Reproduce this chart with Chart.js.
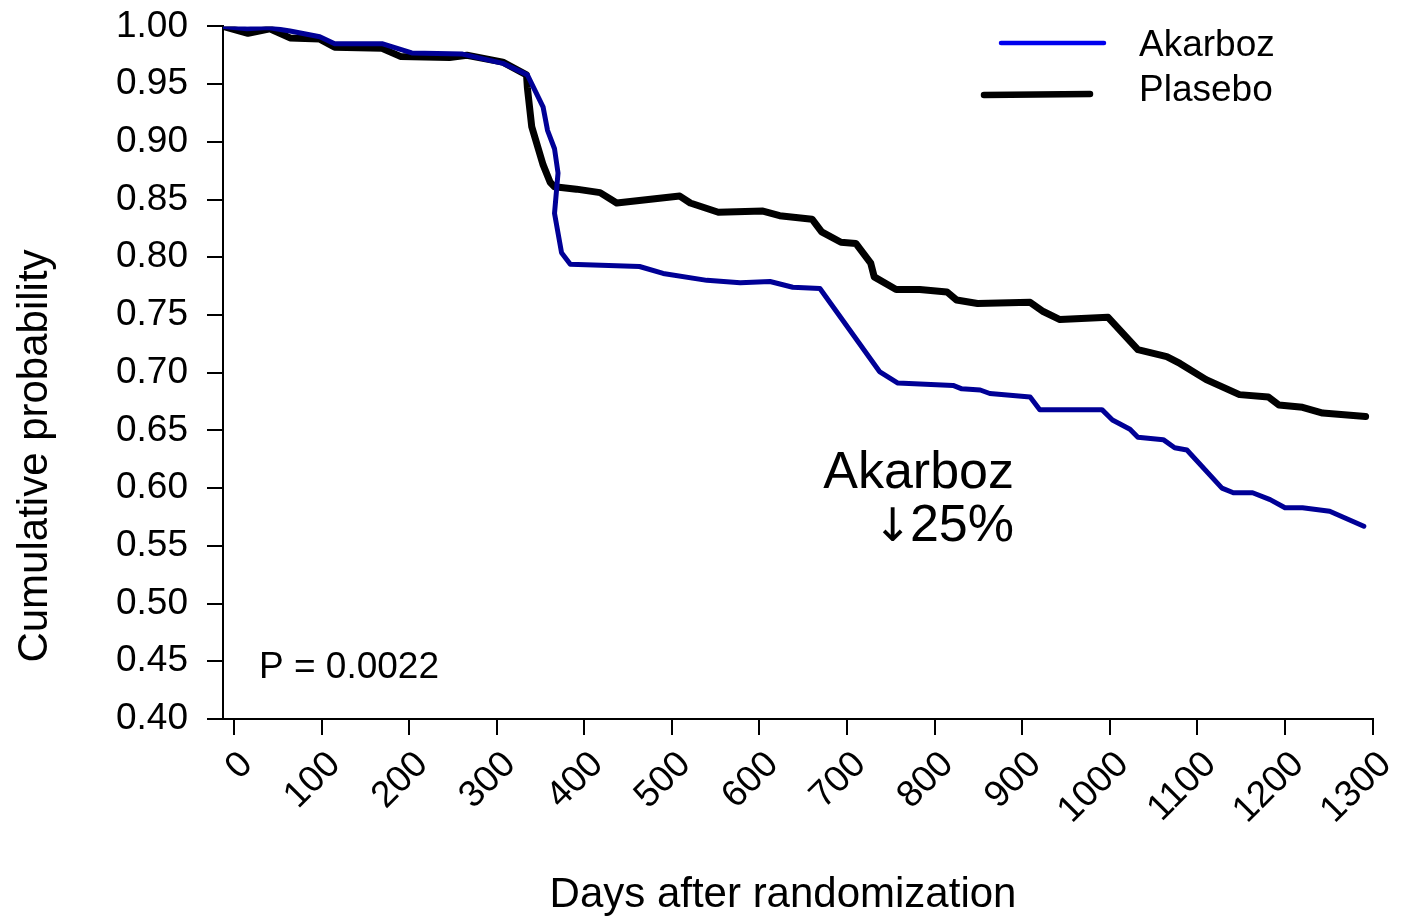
<!DOCTYPE html>
<html>
<head>
<meta charset="utf-8">
<script src="https://cdn.jsdelivr.net/npm/chart.js@4/dist/chart.umd.min.js"></script>
<style>
  html, body { margin: 0; padding: 0; background: #fff; }
  canvas { display: block; }
</style>
</head>
<body>
<canvas id="survivalChart" width="1412" height="916"></canvas>
<script>
// Kaplan-Meier style curves, day vs cumulative probability
const akarbozDays = [-12, 15, 39, 64, 98, 115, 169, 203, 261, 307, 335, 353, 358, 366, 370, 366, 374, 384,
  463, 490, 540, 578, 612, 638, 669, 703, 737, 758, 821, 831, 852, 863, 909, 920, 991, 1003, 1023,
  1032, 1061, 1074, 1088, 1128, 1141, 1163, 1183, 1200, 1220, 1251, 1290];
const akarbozValues = [1.000, 0.998, 0.999, 0.996, 0.991, 0.985, 0.985, 0.977, 0.976, 0.968, 0.958, 0.930,
  0.910, 0.894, 0.873, 0.838, 0.804, 0.794, 0.792, 0.786, 0.780, 0.778, 0.779, 0.774, 0.773, 0.737,
  0.701, 0.691, 0.689, 0.686, 0.685, 0.682, 0.679, 0.668, 0.668, 0.659, 0.651, 0.644, 0.642, 0.635,
  0.633, 0.600, 0.596, 0.596, 0.590, 0.583, 0.583, 0.580, 0.567];

const plaseboDays = [-12, 16, 41, 64, 98, 115, 169, 190, 246, 266, 307, 334, 335, 340, 353, 361, 366, 391,
  418, 437, 509, 521, 553, 604, 623, 660, 671, 693, 710, 727, 731, 756, 783, 814, 825, 849, 909, 924,
  943, 998, 1032, 1065, 1080, 1110, 1148, 1181, 1193, 1220, 1243, 1292];
const plaseboValues = [1.000, 0.994, 0.998, 0.990, 0.989, 0.982, 0.981, 0.974, 0.973, 0.975, 0.969, 0.958,
  0.947, 0.913, 0.880, 0.865, 0.861, 0.859, 0.856, 0.847, 0.853, 0.847, 0.839, 0.840, 0.836, 0.833,
  0.822, 0.813, 0.812, 0.795, 0.783, 0.772, 0.772, 0.770, 0.763, 0.760, 0.761, 0.753, 0.746, 0.748,
  0.720, 0.714, 0.708, 0.694, 0.681, 0.679, 0.672, 0.670, 0.665, 0.662];

const xTicks = [0, 100, 200, 300, 400, 500, 600, 700, 800, 900, 1000, 1100, 1200, 1300];
const yTicks = [0.40, 0.45, 0.50, 0.55, 0.60, 0.65, 0.70, 0.75, 0.80, 0.85, 0.90, 0.95, 1.00];

const seriesNames = ['Akarboz', 'Plasebo'];
const xTitle = 'Days after randomization';
const yTitle = 'Cumulative probability';
const pValueText = 'P = 0.0022';
const reductionName = 'Akarboz';
const reductionArrow = '\u2193';
const reductionValue = '25%';

const FONT = "'Liberation Sans', Arial, sans-serif";
Chart.defaults.font.family = FONT;
Chart.defaults.color = '#000';

const toPoints = (xs, ys) => xs.map((d, i) => ({ x: d, y: ys[i] }));

// legend, axis titles and text notes drawn straight onto the canvas
const notesPlugin = {
  id: 'notes',
  afterDraw(chart) {
    const ctx = chart.ctx;
    ctx.save();
    ctx.lineCap = 'round';

    ctx.strokeStyle = '#0000ee';
    ctx.lineWidth = 4.5;
    ctx.beginPath(); ctx.moveTo(1001, 43); ctx.lineTo(1104, 43); ctx.stroke();
    ctx.strokeStyle = '#000';
    ctx.lineWidth = 6.5;
    ctx.beginPath(); ctx.moveTo(984, 95); ctx.lineTo(1090, 94); ctx.stroke();

    ctx.fillStyle = '#000';
    ctx.textAlign = 'left';
    ctx.textBaseline = 'alphabetic';
    ctx.font = '37px ' + FONT;
    ctx.fillText(seriesNames[0], 1139, 56);
    ctx.fillText(seriesNames[1], 1139, 101);
    ctx.fillText(pValueText, 259, 678);

    ctx.font = '42px ' + FONT;
    ctx.textAlign = 'center';
    ctx.fillText(xTitle, 783, 907);
    ctx.save();
    ctx.translate(47, 456);
    ctx.rotate(-Math.PI / 2);
    ctx.fillText(yTitle, 0, 0);
    ctx.restore();

    ctx.textAlign = 'right';
    ctx.font = '52px ' + FONT;
    ctx.fillText(reductionName, 1014, 488);
    ctx.fillText(reductionValue, 1014, 541);
    const w = ctx.measureText(reductionValue).width;
    ctx.font = "46px 'DejaVu Sans', sans-serif";
    ctx.fillText(reductionArrow, 1014 - w + 2, 541);
    ctx.restore();
  }
};

const axisLine = { display: true, color: '#000', width: 2 };
const axisGrid = { display: true, drawOnChartArea: false, drawTicks: true, tickLength: 16, color: '#000', lineWidth: 2 };

new Chart(document.getElementById('survivalChart'), {
  type: 'line',
  data: {
    datasets: [
      {
        label: seriesNames[0],
        data: toPoints(akarbozDays, akarbozValues),
        borderColor: '#000096',
        borderWidth: 5,
        order: 1
      },
      {
        label: seriesNames[1],
        data: toPoints(plaseboDays, plaseboValues),
        borderColor: '#000',
        borderWidth: 7,
        order: 2
      }
    ]
  },
  options: {
    responsive: false,
    animation: false,
    events: [],
    layout: { padding: { top: 26, right: 39, bottom: 0, left: 0 } },
    elements: {
      point: { radius: 0 },
      line: { tension: 0, borderJoinStyle: 'round', borderCapStyle: 'round' }
    },
    plugins: {
      legend: { display: false },
      tooltip: { enabled: false }
    },
    scales: {
      x: {
        type: 'linear',
        min: -12.5,
        max: 1300,
        border: axisLine,
        grid: axisGrid,
        afterBuildTicks: s => { s.ticks = xTicks.map(v => ({ value: v })); },
        afterFit: s => { s.height = 197; },
        ticks: {
          autoSkip: false,
          minRotation: 45,
          maxRotation: 45,
          padding: 8,
          labelOffset: 13,
          font: { size: 37 },
          callback: v => String(v)
        }
      },
      y: {
        type: 'linear',
        min: 0.40,
        max: 1.00,
        border: axisLine,
        grid: axisGrid,
        afterBuildTicks: s => { s.ticks = yTicks.map(v => ({ value: v })); },
        afterFit: s => { s.width = 223; },
        ticks: {
          padding: 19,
          font: { size: 37, lineHeight: 0.4 },
          callback: v => v.toFixed(2)
        }
      }
    }
  },
  plugins: [notesPlugin]
});
</script>
</body>
</html>
